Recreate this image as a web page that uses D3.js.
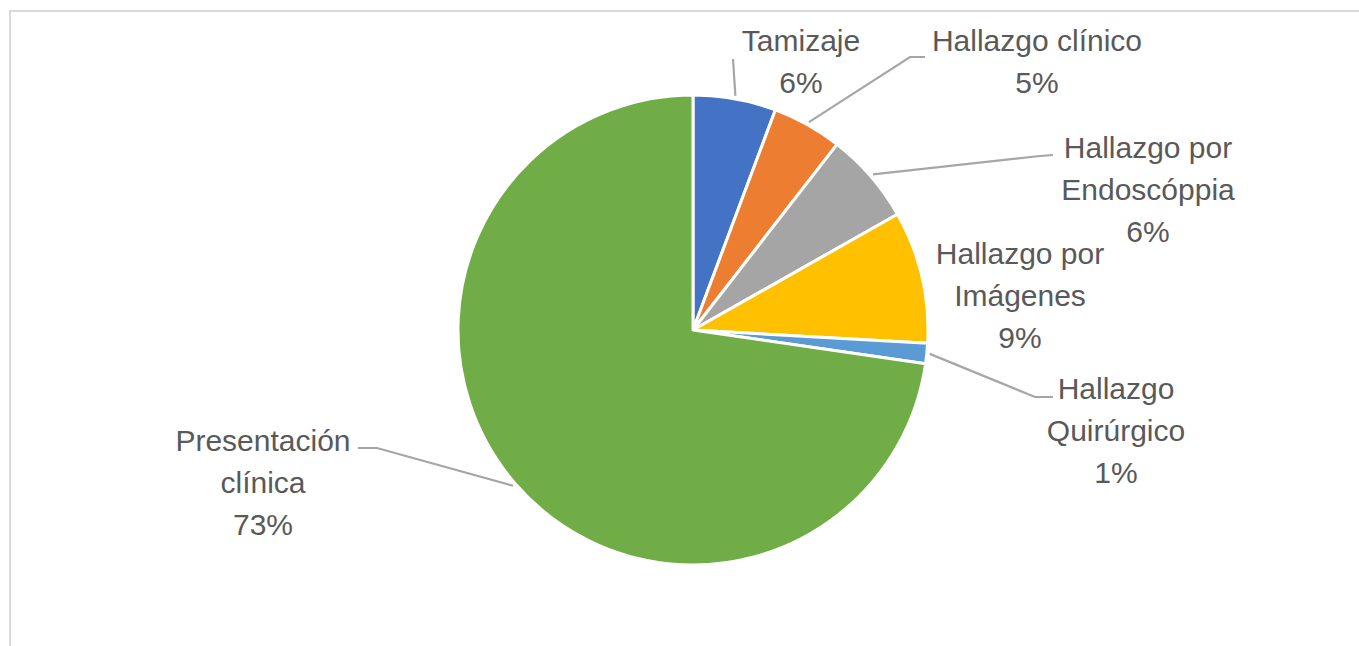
<!DOCTYPE html>
<html>
<head>
<meta charset="utf-8">
<script src="https://cdn.jsdelivr.net/npm/d3@7"></script>
<style>
  body { margin: 0; background: #fff; }
  svg { display: block; }
</style>
</head>
<body>
<script>
const categories = ["Tamizaje", "Hallazgo clínico", "Hallazgo por Endoscóppia", "Hallazgo por Imágenes", "Hallazgo Quirúrgico", "Presentación clínica"];
const values = [5.7, 4.8, 6.3, 9.1, 1.4, 72.7];
const percentLabels = ["6%", "5%", "6%", "9%", "1%", "73%"];
const colors = ["#4472C4", "#ED7D31", "#A5A5A5", "#FFC000", "#5B9BD5", "#70AD47"];

// label layout: text lines, center x, first line y; leader elbow points
const labelLayout = [
  { lines: ["Tamizaje"], x: 801, y: 40, leader: [[733, 59]] },
  { lines: ["Hallazgo clínico"], x: 1037, y: 40, leader: [[910, 57], [925, 57]] },
  { lines: ["Hallazgo por", "Endoscóppia"], x: 1148, y: 147, leader: [[1040, 156], [1053, 155]] },
  { lines: ["Hallazgo por", "Imágenes"], x: 1020, y: 253, leader: null },
  { lines: ["Hallazgo", "Quirúrgico"], x: 1116, y: 388, leader: [[1035, 397], [1053, 397]] },
  { lines: ["Presentación", "clínica"], x: 263, y: 440, leader: [[377, 448], [358, 448]] }
];

function drawChart() {
  const width = 1359;
  const height = 646;
  const cx = 693, cy = 330, r = 235;
  const lineH = 42;

  const svg = d3.select('body')
    .append('svg')
    .attr('width', width)
    .attr('height', height);

  // frame
  svg.append('path')
    .attr('d', `M10,${height} L10,11 L${width},11`)
    .style('fill', 'none')
    .style('stroke', '#d9d9d9')
    .style('stroke-width', 2);

  const pie = d3.pie().sort(null).value(d => d);
  const arcs = pie(values);
  const arc = d3.arc().innerRadius(0).outerRadius(r);

  const g = svg.append('g').attr('transform', `translate(${cx},${cy})`);
  g.selectAll('path')
    .data(arcs)
    .enter()
    .append('path')
    .attr('d', arc)
    .style('fill', (d, i) => colors[i])
    .style('stroke', '#fff')
    .style('stroke-width', 3)
    .style('stroke-linejoin', 'round');

  // leader lines
  arcs.forEach((a, i) => {
    const lay = labelLayout[i];
    if (!lay.leader) return;
    const mid = (a.startAngle + a.endAngle) / 2;
    const start = [cx + (r + 3) * Math.sin(mid), cy - (r + 3) * Math.cos(mid)];
    svg.append('path')
      .attr('d', d3.line()([start, ...lay.leader]))
      .style('fill', 'none')
      .style('stroke', '#a6a6a6')
      .style('stroke-width', 2.2);
  });

  // labels
  labelLayout.forEach((lay, i) => {
    const t = svg.append('text')
      .attr('text-anchor', 'middle')
      .style('font-family', '"Liberation Sans", Arial, sans-serif')
      .style('font-size', '30px')
      .style('fill', '#595959');
    lay.lines.concat([percentLabels[i]]).forEach((s, k) => {
      t.append('tspan')
        .attr('x', lay.x)
        .attr('y', lay.y + k * lineH)
        .attr('dy', '0.35em')
        .text(s);
    });
  });
}

window.onload = drawChart;
</script>
</body>
</html>
